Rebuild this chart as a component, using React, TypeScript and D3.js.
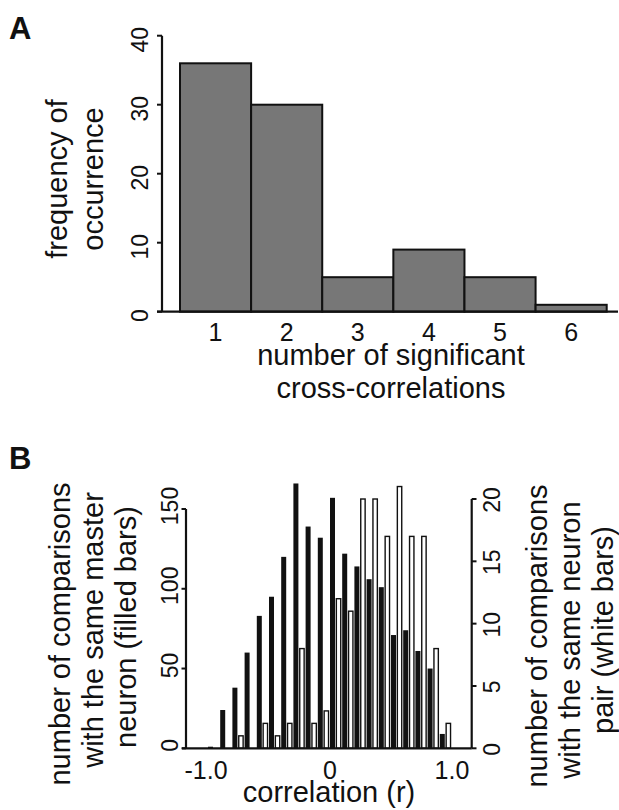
import React from 'react';
import * as d3 from 'd3';

// Panel A: histogram of significant cross-correlations
const sigCounts = [1, 2, 3, 4, 5, 6];
const sigFreq = [36, 30, 5, 9, 5, 1];
const freqTicks = [0, 10, 20, 30, 40];

// Panel B: correlation histogram, bins of 0.1 starting at these edges
const binStarts = [-1.0, -0.9, -0.8, -0.7, -0.6, -0.5, -0.4, -0.3, -0.2, -0.1, 0.0, 0.1, 0.2, 0.3, 0.4, 0.5, 0.6, 0.7, 0.8, 0.9];
const masterCounts = [1, 24, 38, 60, 83, 95, 120, 166, 139, 132, 157, 122, 114, 106, 101, 71, 74, 61, 50, 9];
const pairCounts = [0, 0, 1, 0, 2, 1, 2, 8, 2, 3, 12, 11, 20, 20, 17, 21, 17, 17, 8, 2];
const leftTicks = [0, 50, 100, 150];
const rightTicks = [0, 5, 10, 15, 20];
const corrTicks = [-1.0, 0, 1.0];
const corrTickLabels = ['-1.0', '0', '1.0'];

const FONT = '"Liberation Sans", Arial, Helvetica, sans-serif';

const App: React.FC = () => {
  // scales for panel A
  const xA = d3.scaleLinear().domain([0.5, 6.5]).range([180, 606.7]);
  const yA = d3.scaleLinear().domain([0, 40]).range([311.7, 35.7]);

  // scales for panel B
  const xB = d3.scaleLinear().domain([-1, 1]).range([208, 452]);
  const yL = d3.scaleLinear().domain([0, 150]).range([748.3, 509]);
  const yR = d3.scaleLinear().domain([0, 20]).range([748.3, 499]);
  const bw = xB(0.1) - xB(0);

  return (
    <svg width={619} height={810} style={{ position: 'absolute', left: 0, top: 0, background: '#fff' }} fontFamily={FONT} fill="#111">
      {/* ---------- Panel A ---------- */}
      <text x={9} y={39} fontSize={31} fontWeight="bold">A</text>

      {sigCounts.map((c, i) => (
        <rect key={'a' + c} x={xA(c - 0.5)} y={yA(sigFreq[i])} width={xA(c + 0.5) - xA(c - 0.5)}
          height={yA(0) - yA(sigFreq[i])} fill="#777" stroke="#111" strokeWidth={2} />
      ))}

      {/* axes */}
      <line x1={xA(0.5) - 23} x2={618} y1={yA(0)} y2={yA(0)} stroke="#111" strokeWidth={2.2} />
      <line x1={xA(0.5) - 18} x2={xA(0.5) - 18} y1={yA(0)} y2={yA(40)} stroke="#111" strokeWidth={2.2} />
      {freqTicks.map(t => (
        <g key={'fa' + t}>
          <line x1={xA(0.5) - 23} x2={xA(0.5) - 18} y1={yA(t)} y2={yA(t)} stroke="#111" strokeWidth={2} />
          <text transform={`translate(147.5,${yA(t) + 4}) rotate(-90)`} textAnchor="middle" fontSize={23}>{t}</text>
        </g>
      ))}
      {sigCounts.map(c => (
        <text key={'xa' + c} x={xA(c)} y={340.5} textAnchor="middle" fontSize={25}>{c}</text>
      ))}
      <text x={391} y={365} textAnchor="middle" fontSize={29}>number of significant</text>
      <text x={391} y={398} textAnchor="middle" fontSize={29}>cross-correlations</text>
      <text transform="translate(66.7,179) rotate(-90)" textAnchor="middle" fontSize={29}>frequency of</text>
      <text transform="translate(103.3,179) rotate(-90)" textAnchor="middle" fontSize={29}>occurrence</text>

      {/* ---------- Panel B ---------- */}
      <text x={9} y={469} fontSize={31} fontWeight="bold">B</text>

      {binStarts.map((b, i) => (
        <g key={'b' + i}>
          <rect x={xB(b)} y={yL(masterCounts[i])} width={bw * 0.41}
            height={yL(0) - yL(masterCounts[i])} fill="#111" />
          {pairCounts[i] > 0 && (
            <rect x={xB(b) + bw * 0.52} y={yR(pairCounts[i])} width={bw * 0.36}
              height={yR(0) - yR(pairCounts[i])} fill="#fff" stroke="#111" strokeWidth={1.4} />
          )}
        </g>
      ))}

      {/* axes */}
      <line x1={182} x2={471.7} y1={yL(0)} y2={yL(0)} stroke="#111" strokeWidth={2.2} />
      <line x1={186} x2={186} y1={yL(0)} y2={yL(150)} stroke="#111" strokeWidth={2.2} />
      <line x1={471.7} x2={471.7} y1={yR(0)} y2={yR(20)} stroke="#111" strokeWidth={2.2} />
      {leftTicks.map(t => (
        <g key={'lt' + t}>
          <line x1={181.5} x2={186} y1={yL(t)} y2={yL(t)} stroke="#111" strokeWidth={2} />
          <text transform={`translate(178.3,${yL(t) - 3}) rotate(-90)`} textAnchor="middle" fontSize={23}>{t}</text>
        </g>
      ))}
      {rightTicks.map(t => (
        <g key={'rt' + t}>
          <line x1={471.7} x2={476.5} y1={yR(t)} y2={yR(t)} stroke="#111" strokeWidth={2} />
          <text transform={`translate(500,${yR(t) + 1}) rotate(-90)`} textAnchor="middle" fontSize={23}>{t}</text>
        </g>
      ))}
      {corrTicks.map((t, i) => (
        <text key={'ct' + i} x={xB(t) + (i === 0 ? -2 : 0)} y={779} textAnchor="middle" fontSize={25}>{corrTickLabels[i]}</text>
      ))}
      <text x={329} y={801.7} textAnchor="middle" fontSize={29}>correlation (r)</text>

      <text transform="translate(70,634) rotate(-90)" textAnchor="middle" fontSize={29}>number of comparisons</text>
      <text transform="translate(103,630) rotate(-90)" textAnchor="middle" fontSize={29}>with the same master</text>
      <text transform="translate(136,627) rotate(-90)" textAnchor="middle" fontSize={29}>neuron (filled bars)</text>

      <text transform="translate(546.7,636) rotate(-90)" textAnchor="middle" fontSize={29}>number of comparisons</text>
      <text transform="translate(580,640) rotate(-90)" textAnchor="middle" fontSize={29}>with the same neuron</text>
      <text transform="translate(613,630) rotate(-90)" textAnchor="middle" fontSize={29}>pair (white bars)</text>
    </svg>
  );
};

export default App;
